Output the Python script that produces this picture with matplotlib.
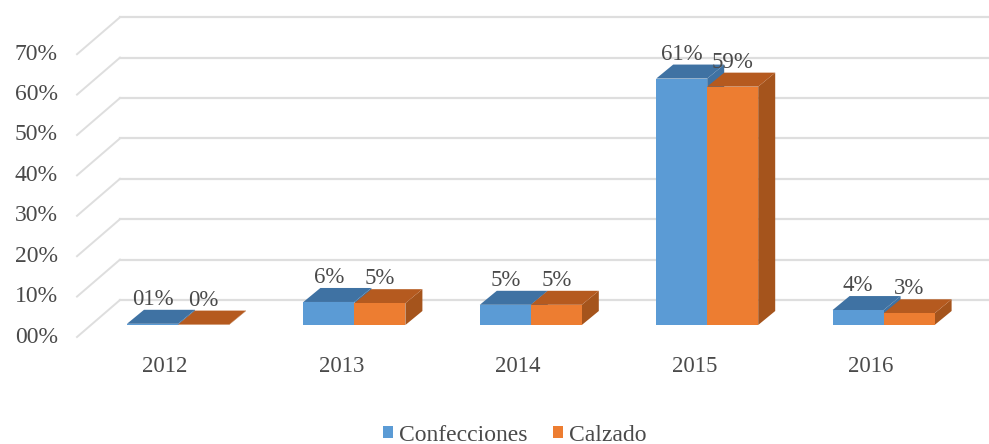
"""3D look clustered bars: Confecciones vs Calzado"""

import numpy as np
import matplotlib.pyplot as plt
from matplotlib.patches import Polygon, Rectangle

years = ['2012', '2013', '2014', '2015', '2016']
confecciones = [0.3, 5.7, 5.0, 61.0, 3.7]
calzado = [0.1, 5.4, 5.0, 59.0, 2.9]
labels_conf = ['01%', '6%', '5%', '61%', '4%']
labels_calz = ['0%', '5%', '5%', '59%', '3%']
y_ticks = [0, 10, 20, 30, 40, 50, 60, 70]
y_ticklabels = ['00%', '10%', '20%', '30%', '40%', '50%', '60%', '70%']

plt.rcParams['font.family'] = ['Liberation Serif', 'DejaVu Serif']
TXT = '#4a4a4a'

fig = plt.figure(figsize=(9.89, 4.44), dpi=100)
ax = fig.add_axes([0, 0, 1, 1])

# one x unit = one category, one y unit = one percent
PX_X = 176.4
PX_Y = 4.04
X0 = 178
Y0 = 325
ax.set_xlim((0 - X0) / PX_X, (989 - X0) / PX_X)
ax.set_ylim((Y0 - 444) / PX_Y, Y0 / PX_Y)
ax.axis('off')

w = 51 / PX_X
dx = 17 / PX_X
dy = 14 / PX_Y

#%% floor, wall grid
back_x0 = (120 - X0) / PX_X
back_x1 = (989 - X0) / PX_X
back_dy = 25 / PX_Y
wall_x0 = (77 - X0) / PX_X
wall_dy = -12 / PX_Y
for t, lab in zip(y_ticks, y_ticklabels):
    ax.plot([back_x0, back_x1], [t + back_dy, t + back_dy], color='#dedede', lw=1.6, zorder=1)
    ax.plot([wall_x0, back_x0], [t + wall_dy, t + back_dy], color='#dedede', lw=1.4, zorder=1)
    ax.text((58 - X0) / PX_X, t - 12 / PX_Y, lab, ha='right', va='center',
            fontsize=17, color=TXT)


def bar3d(x, h, front, top, side):
    ax.add_patch(Polygon([(x + w, 0), (x + w + dx, dy), (x + w + dx, h + dy), (x + w, h)],
                         fc=side, ec='none', zorder=3))
    ax.add_patch(Polygon([(x, h), (x + w, h), (x + w + dx, h + dy), (x + dx, h + dy)],
                         fc=top, ec='none', zorder=3))
    ax.add_patch(Rectangle((x, 0), w, h, fc=front, ec='none', zorder=3))


#%% bars, blue first so orange sits over its side face
for i in range(len(years)):
    bar3d(i - w, confecciones[i], '#5b9bd5', '#3f72a3', '#3f72a3')
    bar3d(i, calzado[i], '#ed7d31', '#b55a1f', '#a5541c')
    ax.annotate(labels_conf[i], (i - w / 2, confecciones[i]), xytext=(0, 17.5),
                textcoords='offset points', ha='center', va='center',
                fontsize=16.5, color=TXT, zorder=5)
    ax.annotate(labels_calz[i], (i + w / 2, calzado[i]), xytext=(0, 17.5),
                textcoords='offset points', ha='center', va='center',
                fontsize=16.5, color=TXT, zorder=5)
    ax.text(i - 13 / PX_X, -41 / PX_Y, years[i], ha='center', va='center',
            fontsize=16.5, color=TXT)

#%% legend
handles = [Rectangle((0, 0), 1, 1, fc='#5b9bd5'), Rectangle((0, 0), 1, 1, fc='#ed7d31')]
fig.legend(handles, ['Confecciones', 'Calzado'], loc='center', bbox_to_anchor=(514.5 / 989, 1 - 435 / 444),
           ncol=2, frameon=False, fontsize=17, labelcolor=TXT, handlelength=0.42, handleheight=0.42,
           handletextpad=0.25, columnspacing=1.1, borderpad=0)

plt.savefig('out.png', dpi=100)
